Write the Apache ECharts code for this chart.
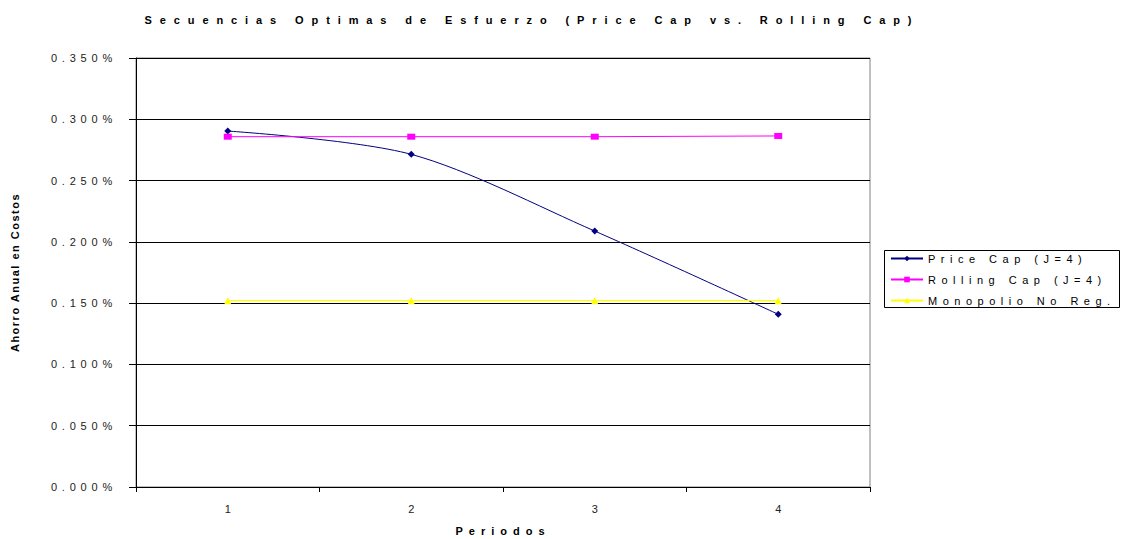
<!DOCTYPE html>
<html>
<head>
<meta charset="utf-8">
<script src="https://cdn.jsdelivr.net/npm/echarts@6/dist/echarts.min.js"></script>
<style>
html,body{margin:0;padding:0;background:#fff;}
#c{width:1123px;height:539px;}
</style>
</head>
<body>
<div id="c"></div>
<script>
const titleText = 'Secuencias Optimas de Esfuerzo (Price Cap vs. Rolling Cap)';
const xAxisName = 'Periodos';
const yAxisName = 'Ahorro Anual en Costos';
const categories = ['1', '2', '3', '4'];
const seriesNames = ['Price Cap (J=4)', 'Rolling Cap (J=4)', 'Monopolio No Reg.'];
const priceCap = [0.2904, 0.2714, 0.2088, 0.1409];
const rollingCap = [0.2858, 0.2858, 0.2858, 0.2864];
const monopolio = [0.1520, 0.1520, 0.1520, 0.1520];
const yMin = 0, yMax = 0.35, yStep = 0.05;

const FONT = 'Liberation Sans, Arial, sans-serif';
const chart = echarts.init(document.getElementById('c'), null, {renderer: 'svg'});
chart.setOption({
  animation: false,
  backgroundColor: '#fff',
  title: {
    text: titleText,
    left: 527, top: 9, textAlign: 'center',
    textStyle: {fontFamily: FONT, fontSize: 11, fontWeight: 'bold', color: '#000'}
  },
  grid: {left: 136, right: 253, top: 58, bottom: 52, show: true, borderColor: '#808080', borderWidth: 1,
         containLabel: false, outerBoundsMode: 'none'},
  graphic: [{
    type: 'rect', left: 884, top: 250, z: 0, silent: true,
    shape: {width: 235, height: 57},
    style: {fill: '#fff', stroke: '#000', lineWidth: 1}
  }],
  legend: {
    orient: 'vertical', left: 890, top: 253,
    itemWidth: 32, itemHeight: 7, itemGap: 10,
    padding: 0, z: 10,
    textStyle: {fontFamily: FONT, fontSize: 11, color: '#000'},
    data: seriesNames
  },
  xAxis: {
    type: 'category', data: categories, boundaryGap: true,
    name: xAxisName, nameLocation: 'middle', nameGap: 38,
    nameTextStyle: {fontFamily: FONT, fontSize: 11, fontWeight: 'bold', color: '#000'},
    axisLine: {lineStyle: {color: '#000', width: 1}},
    axisTick: {show: true, length: 5, lineStyle: {color: '#000'}},
    axisLabel: {fontFamily: FONT, fontSize: 11, color: '#222', margin: 16}
  },
  yAxis: {
    type: 'value', min: yMin, max: yMax, interval: yStep,
    name: yAxisName, nameLocation: 'middle', nameGap: 116,
    nameTextStyle: {fontFamily: FONT, fontSize: 11, fontWeight: 'bold', color: '#000'},
    axisLine: {show: true, lineStyle: {color: '#000', width: 1}},
    axisTick: {show: true, length: 7, lineStyle: {color: '#000'}},
    axisLabel: {fontFamily: FONT, fontSize: 11, color: '#222', margin: 19,
      formatter: v => v.toFixed(3) + '%'},
    splitLine: {show: true, lineStyle: {color: '#000', width: 1}}
  },
  series: [
    {name: seriesNames[0], type: 'line', data: priceCap, smooth: 0.3,
     symbol: 'diamond', symbolSize: 7,
     itemStyle: {color: '#000080'}, lineStyle: {color: '#000080', width: 1}},
    {name: seriesNames[1], type: 'line', data: rollingCap,
     symbol: 'rect', symbolSize: [8, 6],
     itemStyle: {color: '#FF00FF'}, lineStyle: {color: '#FF00FF', width: 1}},
    {name: seriesNames[2], type: 'line', data: monopolio,
     symbol: 'triangle', symbolSize: 7,
     itemStyle: {color: '#FFFF00'}, lineStyle: {color: '#FFFF00', width: 1.2}}
  ]
});

function spaceText() {
  document.querySelectorAll('#c text').forEach(t => {
    const s = t.textContent;
    let ls = null;
    if (s === titleText) ls = '7.9px';
    else if (s === xAxisName) ls = '6px';
    else if (s === yAxisName) ls = '1.5px';
    else if (seriesNames.indexOf(s) >= 0) ls = '5.5px';
    else if (/%$/.test(s)) ls = '4.8px';
    if (ls) t.style.letterSpacing = ls;
  });
}
chart.on('finished', spaceText);
setTimeout(spaceText, 50);
</script>
</body>
</html>
